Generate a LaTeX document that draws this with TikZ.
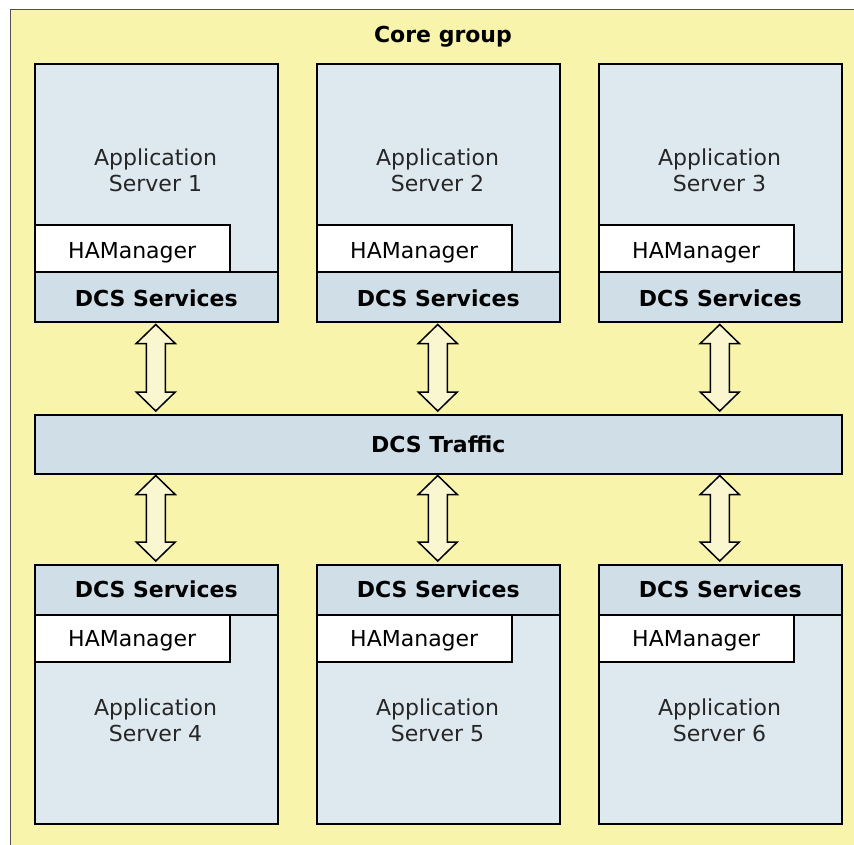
\documentclass[tikz,border=0pt]{standalone}
\usepackage{fontspec}
\setmainfont{DejaVu Sans}
\usetikzlibrary{calc}
\definecolor{bgyel}{HTML}{F9F4AB}
\definecolor{srvblue}{HTML}{DEE8EF}
\definecolor{dcsblue}{HTML}{D0DEE8}
\definecolor{arrfill}{HTML}{FAF6D0}
\definecolor{outline}{HTML}{505050}
\tikzset{
  srvbox/.style={draw=black, line width=1.5pt, fill=srvblue, anchor=north west, minimum width=243pt, minimum height=258pt, inner sep=0pt},
  dcsbox/.style={draw=black, line width=1.5pt, fill=dcsblue, anchor=north west, minimum width=243pt, minimum height=50pt, inner sep=0pt, font=\fontsize{22pt}{26pt}\selectfont\bfseries, text depth=0pt},
  hambox/.style={draw=black, line width=1.5pt, fill=white, anchor=north west, minimum width=195pt, minimum height=47pt, inner sep=0pt, font=\fontsize{22pt}{26pt}\selectfont, text depth=0pt},
  apptext/.style={align=center, font=\fontsize{22pt}{26pt}\selectfont, text=black!85, inner sep=0pt},
  arr/.style={draw=black, line width=1.5pt, fill=arrfill, line join=miter},
}
\newcommand\dblarrow[2]{%
  \draw[arr] (#1) -- ++(19.5,19) -- ++(-10,0) -- ($(#2)+(9.5,-19)$) -- ++(10,0) -- (#2)
    -- ++(-19.5,-19) -- ++(10,0) -- ($(#1)+(-9.5,19)$) -- ++(-10,0) -- cycle;}
\begin{document}
\begin{tikzpicture}[x=1pt,y=-1pt]
\useasboundingbox (0,0) rectangle (854,844);
\fill[white] (0,0) rectangle (854,844);
\draw[outline, line width=1pt, fill=bgyel] (10,9.5) rectangle (862,852);
\node[font=\fontsize{22pt}{26pt}\selectfont\bfseries] (title) at (443,37) {Core group};
% top row
\foreach \i/\x in {1/34,2/316,3/598}{
  \node[srvbox] (s\i) at (\x,63) {};
  \node[apptext] (a\i) at (\x+121.5,170) {Application\\Server \i};
  \node[hambox, text height=21pt] (h\i) at (\x,224) {HAManager};
  \node[dcsbox, text height=19pt] (d\i) at (\x,271) {DCS Services};
}
% traffic
\node[draw=black, line width=1.5pt, fill=dcsblue, anchor=north west, minimum width=807pt, minimum height=59pt, inner sep=0pt, font=\fontsize{22pt}{26pt}\selectfont\bfseries] (tr) at (34,414) {DCS Traffic};
% bottom row
\foreach \i/\x in {4/34,5/316,6/598}{
  \node[srvbox, minimum height=259pt] (s\i) at (\x,564) {};
  \node[apptext] (a\i) at (\x+121.5,720) {Application\\Server \i};
  \node[hambox, text height=16pt] (h\i) at (\x,614) {HAManager};
  \node[dcsbox, text height=15pt] (d\i) at (\x,564) {DCS Services};
}
% arrows
\foreach \i/\j in {1/4,2/5,3/6}{
  \coordinate (ta\i) at ($(d\i.south)+(-0.5,2)$);
  \coordinate (tb\i) at ($(ta\i |- tr.north)+(0,-3)$);
  \dblarrow{ta\i}{tb\i}
  \coordinate (ba\i) at ($(ta\i |- tr.south)+(0,1)$);
  \coordinate (bb\i) at ($(ta\i |- d\j.north)+(0,-3)$);
  \dblarrow{ba\i}{bb\i}
}
\end{tikzpicture}
\end{document}
